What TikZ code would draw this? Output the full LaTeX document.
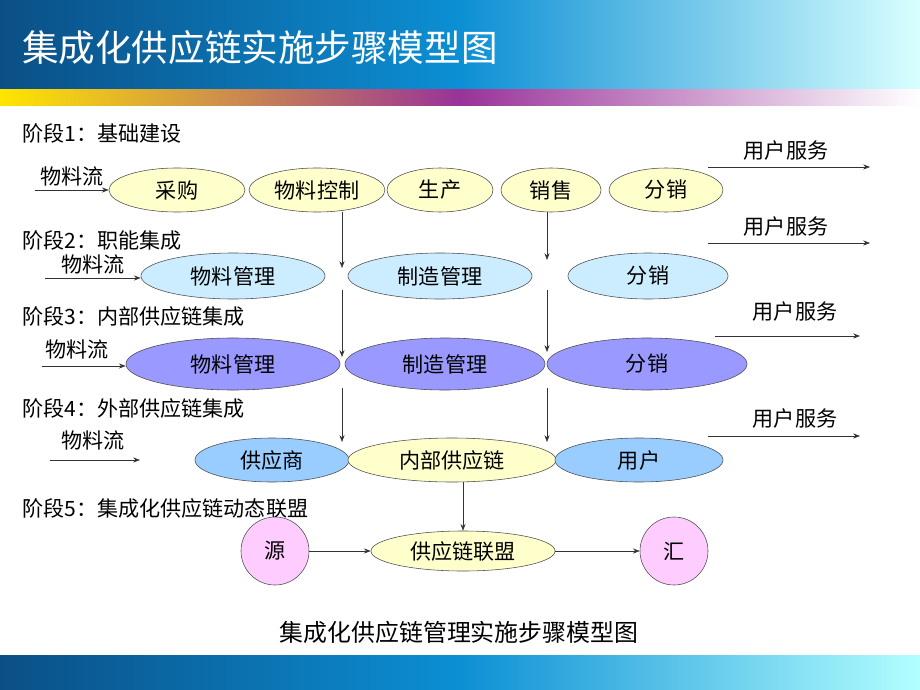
\documentclass[tikz,border=0pt]{standalone}
\usepackage{fontspec}
\setmainfont{Noto Sans CJK SC}
\usetikzlibrary{shapes.geometric,arrows.meta,positioning}
\definecolor{pyellow}{HTML}{FFFFCC}
\definecolor{pcyan}{HTML}{CCECFF}
\definecolor{pviolet}{HTML}{9999FF}
\definecolor{pblue}{HTML}{99CCFF}
\definecolor{ppink}{HTML}{FFCCFF}
\definecolor{hdark}{HTML}{0B4F86}
\definecolor{hmid}{HTML}{0C8FD4}
\begin{document}
\begin{tikzpicture}[x=0.025cm, y=-0.025cm, >=Stealth, font=\fontsize{15}{17}\selectfont]
	\tikzstyle{ell}=[draw=black!70, ellipse, inner sep=0pt]
	\tikzstyle{flow}=[->, draw=black!80]
	\tikzstyle{lbl}=[anchor=west, inner sep=0pt]
	\useasboundingbox (0,0) rectangle (920,690);
	% header and footer bars
	\shade[left color=hdark, right color=cyan!15, middle color=hmid] (0,0) rectangle (920,90);
	\shade[left color=yellow!80!orange, right color=white, middle color=violet!80] (0,90) rectangle (920,105);
	\shade[left color=hdark, right color=cyan!30, middle color=hmid] (0,655) rectangle (920,690);
	\node[lbl, text=white, font=\fontsize{26}{28}\selectfont] (title) at (22,48) {集成化供应链实施步骤模型图};
	
	% stage labels
	\node[lbl] (s1) at (22,133) {阶段1：基础建设};
	\node[lbl] (s2) at (22,240) {阶段2：职能集成};
	\node[lbl] (s3) at (22,316) {阶段3：内部供应链集成};
	\node[lbl] (s4) at (22,408) {阶段4：外部供应链集成};
	\node[lbl] (s5) at (22,508) {阶段5：集成化供应链动态联盟};
	
	% stage 1
	\node[ell, fill=pyellow, minimum width=3.4cm, minimum height=1.1cm] (cg) at (177,190) {采购};
	\node[ell, fill=pyellow, minimum width=3.4cm, minimum height=1.1cm] (wlkz) at (317,190) {物料控制};
	\node[ell, fill=pyellow, minimum width=2.65cm, minimum height=1.1cm] (sc) at (440,190) {生产};
	\node[ell, fill=pyellow, minimum width=2.5cm, minimum height=1.1cm] (xs) at (551,190) {销售};
	\node[ell, fill=pyellow, minimum width=2.85cm, minimum height=1.1cm] (fx1) at (666,190) {分销};
	% stage 2
	\node[ell, fill=pcyan, minimum width=4.6cm, minimum height=1.15cm] (wl2) at (233,276) {物料管理};
	\node[ell, fill=pcyan, minimum width=4.6cm, minimum height=1.15cm] (zz2) at (440,276) {制造管理};
	\node[ell, fill=pcyan, minimum width=4cm, minimum height=1.15cm] (fx2) at (648,276) {分销};
	% stage 3
	\node[ell, fill=pviolet, minimum width=5.35cm, minimum height=1.3cm] (wl3) at (233,364) {物料管理};
	\node[ell, fill=pviolet, minimum width=5cm, minimum height=1.3cm] (zz3) at (445,364) {制造管理};
	\node[ell, fill=pviolet, minimum width=5cm, minimum height=1.3cm] (fx3) at (647,364) {分销};
	% stage 4
	\node[ell, fill=pblue, minimum width=3.85cm, minimum height=1.1cm] (gys) at (272,460) {供应商};
	\node[ell, fill=pyellow, minimum width=5.2cm, minimum height=1.1cm] (nb) at (452,460) {内部供应链};
	\node[ell, fill=pblue, minimum width=4.2cm, minimum height=1.1cm] (yh) at (639,460) {用户};
	% stage 5
	\node[ell, circle, fill=ppink, minimum size=1.7cm] (yuan) at (275,551) {源};
	\node[ell, fill=pyellow, minimum width=4.6cm, minimum height=1cm] (lm) at (463,551) {供应链联盟};
	\node[ell, circle, fill=ppink, minimum size=1.7cm] (hui) at (674,551) {汇};
	
	% vertical links
	\coordinate (a1) at (342,212); \coordinate (a2) at (342,268);
	\coordinate (a3) at (342,290); \coordinate (a4) at (342,357);
	\coordinate (a5) at (342,388); \coordinate (a6) at (342,442);
	\coordinate (b1) at (547,212); \coordinate (b2) at (547,260);
	\coordinate (b3) at (547,290); \coordinate (b4) at (547,352);
	\coordinate (b5) at (547,388); \coordinate (b6) at (547,442);
	\coordinate (c1) at (463,482);
	\draw[flow] (a1) -- (a2); \draw[flow] (a3) -- (a4); \draw[flow] (a5) -- (a6);
	\draw[flow] (b1) -- (b2); \draw[flow] (b3) -- (b4); \draw[flow] (b5) -- (b6);
	\draw[flow] (c1) -- (lm);
	\draw[flow] (yuan) -- (lm);
	\draw[flow] (lm) -- (hui);
	
	% material flow
	\coordinate (m1) at (35,190); \coordinate (m2) at (45,278);
	\coordinate (m3) at (42,366); \coordinate (m4a) at (50,460); \coordinate (m4b) at (140,460);
	\draw[flow] (m1) -- (m1 -| cg.west);
	\draw[flow] (m2) -- (m2 -| wl2.west);
	\draw[flow] (m3) -- (m3 -| wl3.west);
	\draw[flow] (m4a) -- (m4b);
	\node (mf1) at (72,176) {物料流};
	\node (mf2) at (93,264) {物料流};
	\node (mf3) at (77,349) {物料流};
	\node (mf4) at (93,440) {物料流};
	
	% user service
	\coordinate (u1a) at (708,167); \coordinate (u1b) at (870,167);
	\coordinate (u2a) at (708,243); \coordinate (u2b) at (870,243);
	\coordinate (u3a) at (715,336); \coordinate (u3b) at (860,336);
	\coordinate (u4a) at (708,436); \coordinate (u4b) at (860,436);
	\draw[flow] (u1a) -- (u1b); \draw[flow] (u2a) -- (u2b);
	\draw[flow] (u3a) -- (u3b); \draw[flow] (u4a) -- (u4b);
	\node (us1) at (786,150) {用户服务};
	\node (us2) at (786,226) {用户服务};
	\node (us3) at (795,311) {用户服务};
	\node (us4) at (795,418) {用户服务};
	
	\node[font=\fontsize{17}{19}\selectfont] (cap) at (459,632) {集成化供应链管理实施步骤模型图};
\end{tikzpicture}
\end{document}
